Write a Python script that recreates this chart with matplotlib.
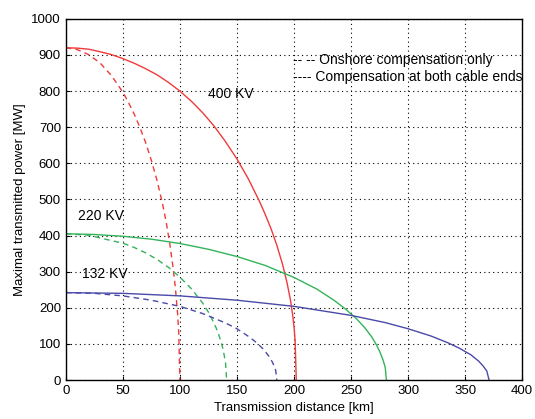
import matplotlib.pyplot as plt

plt.rcParams['font.family'] = ['Liberation Sans', 'DejaVu Sans']

# 400 kV, compensation at both ends (solid) and onshore only (dashed)
x400_both = [0, 10, 20, 30, 40, 50, 60, 70, 80, 90, 100, 110, 120, 130, 140, 150,
             160, 170, 175, 180, 185, 190, 194, 197, 199, 200, 201, 202]
p400_both = [920, 919, 916, 909, 901, 890, 877, 862, 845, 824, 800, 772, 740, 703, 660, 612,
             557, 493, 457, 418, 373, 320, 268, 220, 176, 148, 110, 0]
x400_on = [0, 10, 20, 30, 40, 50, 55, 60, 65, 70, 75, 80, 85, 88, 91, 94, 96, 98, 99, 100]
p400_on = [920, 915, 901, 878, 843, 797, 768, 736, 699, 657, 608, 552, 485, 437, 380, 312, 257, 183, 130, 0]

# 220 kV
x220_both = [0, 25, 50, 75, 100, 125, 150, 175, 200, 220, 235, 245, 255, 262, 268, 272,
             275, 278, 280, 281]
p220_both = [405, 403, 398, 390, 378, 362, 342, 317, 284, 252, 221, 197, 169, 145, 120, 99,
             80, 56, 35, 0]
x220_on = [0, 20, 40, 50, 60, 70, 80, 90, 100, 110, 120, 125, 130, 133, 136, 138, 140, 141]
p220_on = [405, 401, 386, 379, 367, 352, 334, 312, 285, 253, 213, 188, 157, 135, 107, 83, 48, 0]

# 132 kV
x132_both = [0, 50, 100, 150, 200, 250, 280, 300, 320, 335, 345, 355, 362, 366, 369, 371]
p132_both = [242, 240, 233, 221, 204, 179, 159, 142, 122, 103, 88, 70, 52, 38, 25, 0]
x132_on = [0, 25, 50, 75, 100, 120, 140, 150, 160, 167, 173, 178, 181, 183, 184, 185]
p132_on = [242, 240, 233, 221, 204, 184, 158, 142, 121, 104, 86, 66, 50, 36, 26, 0]

red = "#f03a3a"
green = "#33b35a"
blue = "#4a4aa8"

fig = plt.figure(figsize=(5.35, 4.19), dpi=100)
ax = fig.add_axes([0.123, 0.093, 0.853, 0.862])

ax.plot(x400_both, p400_both, color=red, lw=1)
ax.plot(x400_on, p400_on, color=red, lw=1, ls=(0, (4, 3)))
ax.plot(x220_both, p220_both, color=green, lw=1)
ax.plot(x220_on, p220_on, color=green, lw=1, ls=(0, (4, 3)))
ax.plot(x132_both, p132_both, color=blue, lw=1)
ax.plot(x132_on, p132_on, color=blue, lw=1, ls=(0, (4, 3)))

ax.text(125, 781, "400 KV", fontsize=10)
ax.text(10.5, 443, "220 KV", fontsize=10)
ax.text(14, 283, "132 KV", fontsize=10)
ax.text(199, 886, "-- -- Onshore compensation only", fontsize=10, va="center")
ax.text(199, 838, "---- Compensation at both cable ends", fontsize=10, va="center")

ax.set_xlim(0, 400)
ax.set_ylim(0, 1000)
ax.set_xticks(range(0, 401, 50))
ax.set_yticks(range(0, 1001, 100))
ax.grid(True, color="black", ls=(0, (1, 3)), lw=0.8)
ax.tick_params(direction="in", labelsize=9.5, length=3)
ax.set_xlabel("Transmission distance [km]", fontsize=9.5)
ax.set_ylabel("Maximal transmitted power [MW]", fontsize=9.5)
for s in ax.spines.values():
    s.set_linewidth(1)

plt.savefig("out.png", dpi=100)
